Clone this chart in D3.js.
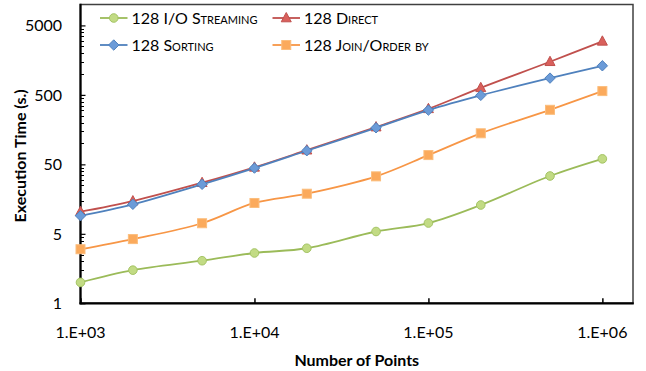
<!DOCTYPE html>
<html>
<head>
<meta charset="utf-8">
<script src="https://cdn.jsdelivr.net/npm/d3@7"></script>
<style>
  html, body { margin: 0; padding: 0; background: #fff; }
  svg { display: block; font-family: Lato, "Open Sans", sans-serif; }
</style>
</head>
<body>
<svg id="chart" width="646" height="371"></svg>
<script>
// Problem sizes (number of points)
const points = [1e3, 2e3, 5e3, 1e4, 2e4, 5e4, 1e5, 2e5, 5e5, 1e6];

// Execution time in seconds per workload
const ioStreaming = [1.0, 1.5, 2.05, 2.65, 3.1, 5.4, 7.15, 13, 34, 60];
const direct      = [10.4, 14.8, 27.2, 45.3, 80, 172, 315, 632, 1500, 2950];
const sorting     = [9.1, 13.3, 25.8, 44.2, 78.5, 168, 302, 492, 872, 1312];
const joinOrderBy = [3.0, 4.2, 7.1, 13.9, 18.9, 33.6, 68, 140, 305, 567];

const seriesNames = ["128 I/O Streaming", "128 Direct", "128 Sorting", "128 Join/Order by"];

// Axis ticks
const xTickValues = [1e3, 1e4, 1e5, 1e6];
const xTickLabels = ["1.E+03", "1.E+04", "1.E+05", "1.E+06"];
const yTickValues = [0.5, 5, 50, 500, 5000];
const yTickLabels = ["1", "5", "50", "500", "5000"];

const svg = d3.select("#chart");
const plot = { left: 80.5, right: 633, top: 4.5, bottom: 303.3 };

const x = d3.scaleLog().domain([1e3, 1.5e6]).range([plot.left, plot.right]);
const y = d3.scaleLog().domain([0.5, 10000]).range([plot.bottom, plot.top]);

const styles = [
  { values: ioStreaming, line: "#9bbb59", fill: "#c2db84", stroke: "#a4c464", shape: "circle" },
  { values: direct,      line: "#c0504d", fill: "#d9605c", stroke: "#c0504d", shape: "triangle" },
  { values: sorting,     line: "#4f81bd", fill: "#6b9bd8", stroke: "#4f81bd", shape: "diamond" },
  { values: joinOrderBy, line: "#f79646", fill: "#fbaa5c", stroke: "#fbbd7c", shape: "square" }
];

// Plot area frame
svg.append("rect")
  .attr("x", plot.left).attr("y", plot.top)
  .attr("width", plot.right - plot.left).attr("height", plot.bottom - plot.top)
  .attr("fill", "none").attr("stroke", "#404040").attr("stroke-width", 1.5);

// Y axis minor ticks (linear steps within each decade)
const yMinor = [];
for (let base = 0.5; base < 10000; base *= 10) {
  for (let m = 2; m <= 9; m++) {
    const v = base * m;
    if (v < 10000) yMinor.push(v);
  }
}
svg.append("g").selectAll("line").data(yMinor).join("line")
  .attr("x1", plot.left).attr("x2", plot.left + 3.5)
  .attr("y1", d => Math.round(y(d)) + 0.5).attr("y2", d => Math.round(y(d)) + 0.5)
  .attr("stroke", "#000").attr("stroke-width", 1);

// Y axis
const yAxis = d3.axisRight(y)
  .tickValues(yTickValues)
  .tickSize(5)
  .tickFormat((d, i) => "");
const gy = svg.append("g").attr("transform", `translate(${plot.left},0)`).call(yAxis);
gy.select(".domain").remove();
gy.selectAll(".tick line").attr("stroke", "#000").attr("stroke-width", 1.2);

svg.append("g").selectAll("text").data(yTickValues).join("text")
  .attr("x", 62).attr("y", d => y(d))
  .attr("dy", "0.36em")
  .attr("text-anchor", "end")
  .attr("font-size", 16).attr("fill", "#000")
  .text((d, i) => yTickLabels[i]);

// X axis
const xAxis = d3.axisTop(x)
  .tickValues(xTickValues)
  .tickSize(5)
  .tickFormat(() => "");
const gx = svg.append("g").attr("transform", `translate(0,${plot.bottom})`).call(xAxis);
gx.select(".domain").remove();
gx.selectAll(".tick line").attr("stroke", "#000").attr("stroke-width", 1.5);

svg.append("g").selectAll("text").data(xTickValues).join("text")
  .attr("x", d => x(d)).attr("y", 338)
  .attr("text-anchor", "middle")
  .attr("font-size", 16).attr("fill", "#000")
  .text((d, i) => xTickLabels[i]);

// Axis lines
svg.append("line")
  .attr("x1", plot.left).attr("x2", plot.left)
  .attr("y1", plot.top - 0.75).attr("y2", plot.bottom + 1)
  .attr("stroke", "#000").attr("stroke-width", 2.2);
svg.append("line")
  .attr("x1", plot.left - 1).attr("x2", plot.right + 0.75)
  .attr("y1", plot.bottom).attr("y2", plot.bottom)
  .attr("stroke", "#000").attr("stroke-width", 2.2);

// Axis titles
svg.append("text")
  .attr("x", (plot.left + plot.right) / 2).attr("y", 366)
  .attr("text-anchor", "middle")
  .attr("font-size", 16).attr("font-weight", "bold")
  .text("Number of Points");

svg.append("text")
  .attr("transform", `translate(26,${(plot.top + plot.bottom) / 2 + 2}) rotate(-90)`)
  .attr("text-anchor", "middle")
  .attr("font-size", 16).attr("font-weight", "bold")
  .text("Execution Time (s.)");

// Marker shapes
function drawMarker(g, shape, cx, cy, s) {
  let el;
  if (shape === "circle") {
    el = g.append("circle").attr("cx", cx).attr("cy", cy).attr("r", 4.3);
  } else if (shape === "square") {
    el = g.append("rect").attr("x", cx - 4.5).attr("y", cy - 4.5).attr("width", 9).attr("height", 9);
  } else if (shape === "diamond") {
    el = g.append("path").attr("d", `M${cx},${cy - 5.2}L${cx + 5.2},${cy}L${cx},${cy + 5.2}L${cx - 5.2},${cy}Z`);
  } else {
    el = g.append("path").attr("d", `M${cx},${cy - 5.5}L${cx + 5},${cy + 3.8}L${cx - 5},${cy + 3.8}Z`);
  }
  el.attr("fill", s.fill).attr("stroke", s.stroke).attr("stroke-width", 1);
}

const line = d3.line()
  .x((d, i) => x(points[i]))
  .y(d => y(d))
  .curve(d3.curveCatmullRom.alpha(0.5));

styles.forEach(s => {
  const g = svg.append("g");
  g.append("path").datum(s.values)
    .attr("d", line)
    .attr("fill", "none").attr("stroke", s.line).attr("stroke-width", 1.8);
  s.values.forEach((v, i) => drawMarker(g, s.shape, x(points[i]), y(v), s));
});

// Legend (two columns, two rows)
const legendPos = [
  { lx: 100, ly: 18 },
  { lx: 272.5, ly: 18 },
  { lx: 100, ly: 45 },
  { lx: 272.5, ly: 45 }
];
const legend = svg.append("g");
styles.forEach((s, i) => {
  const p = legendPos[i];
  const g = legend.append("g");
  g.append("line")
    .attr("x1", p.lx).attr("x2", p.lx + 27.5)
    .attr("y1", p.ly).attr("y2", p.ly)
    .attr("stroke", s.line).attr("stroke-width", 1.8);
  drawMarker(g, s.shape, p.lx + 13.75, p.ly, s);
  g.append("text")
    .attr("x", p.lx + 31.5).attr("y", p.ly)
    .attr("dy", "0.36em")
    .attr("font-size", 16)
    .style("font-variant", "small-caps")
    .text(seriesNames[i]);
});
</script>
</body>
</html>
